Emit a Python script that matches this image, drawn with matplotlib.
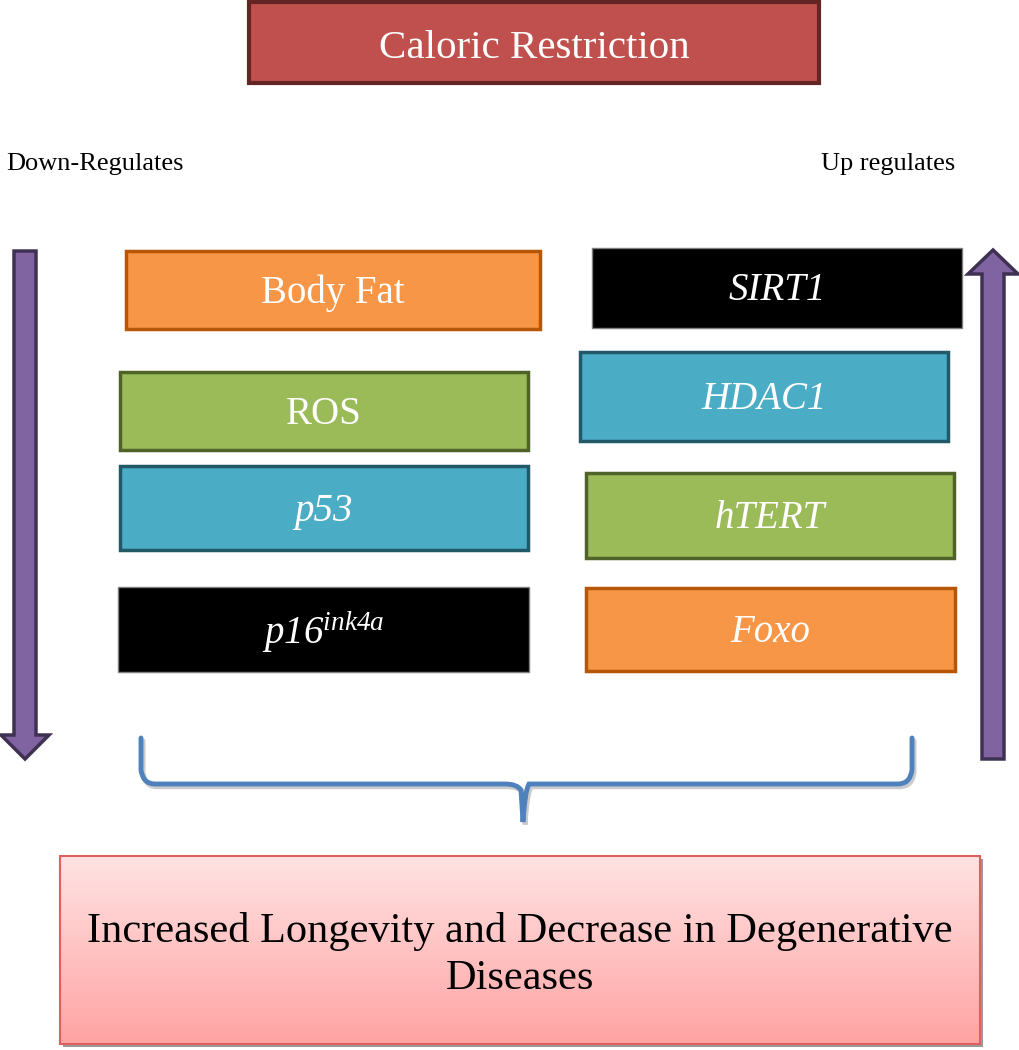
import numpy as np
import matplotlib
matplotlib.use("Agg")
import matplotlib.pyplot as plt
from matplotlib.patches import Rectangle, FancyArrow
from matplotlib.path import Path
from matplotlib.patches import PathPatch
import matplotlib.patheffects as pe

plt.rcParams['font.family'] = ['Liberation Serif', 'DejaVu Serif']
plt.rcParams['mathtext.fontset'] = 'custom'
plt.rcParams['mathtext.it'] = 'Liberation Serif:italic'
plt.rcParams['mathtext.rm'] = 'Liberation Serif:italic'

# labels
title = "Caloric Restriction"
left_label = "Down-Regulates"
right_label = "Up regulates"
down_labels = ["Body Fat", "ROS", "p53", r"$\mathit{p16}^{\mathit{ink4a}}$"]
down_italic = [False, False, True, False]
up_labels = ["SIRT1", "HDAC1", "hTERT", "Foxo"]
outcome = "Increased Longevity and Decrease in Degenerative\nDiseases"

# colours
orange, orange_e = "#F79646", "#B65708"
green, green_e = "#9BBB59", "#4F6228"
blue, blue_e = "#4BACC6", "#215968"
black, black_e = "#000000", "#7F7F7F"
down_styles = [(orange, orange_e), (green, green_e), (blue, blue_e), (black, black_e)]
up_styles = [(black, black_e), (blue, blue_e), (green, green_e), (orange, orange_e)]

# box layout in pixels: x0, y0, x1, y1
down_boxes = [(126, 251, 540, 329), (120, 372, 528, 450), (120, 466, 528, 550), (118, 587, 529, 672)]
up_boxes = [(592, 248, 962, 328), (580, 352, 948, 441), (586, 473, 954, 558), (586, 588, 955, 671)]

fig = plt.figure(figsize=(10.2, 10.5), dpi=100)
ax = fig.add_axes([0, 0, 1, 1])
ax.set_xlim(0, 1020)
ax.set_ylim(1050, 0)
ax.axis("off")


def box(x0, y0, x1, y1, fc, ec, lw=2.5):
    r = Rectangle((x0, y0), x1 - x0, y1 - y0, facecolor=fc, edgecolor=ec, linewidth=lw)
    ax.add_patch(r)
    return r


# title box
box(249, 2, 819, 83, "#C0504D", "#632523", lw=3)
ax.text(534, 48, title, color="white", fontsize=29.5, ha="center", va="center")

ax.text(6, 164, left_label, fontsize=19, ha="left", va="center")
ax.text(955, 164, right_label, fontsize=19, ha="right", va="center")

for lab, it, (x0, y0, x1, y1), (fc, ec) in zip(down_labels, down_italic, down_boxes, down_styles):
    box(x0, y0, x1, y1, fc, ec, lw=2.5 if fc != black else 1)
    ax.text((x0 + x1) / 2, (y0 + y1) / 2 + 3, lab, color="white", fontsize=28,
            style="italic" if it else "normal", ha="center", va="center")

for lab, (x0, y0, x1, y1), (fc, ec) in zip(up_labels, up_boxes, up_styles):
    box(x0, y0, x1, y1, fc, ec, lw=2.5 if fc != black else 1)
    ax.text((x0 + x1) / 2, (y0 + y1) / 2 + 3, lab, color="white", fontsize=28,
            style="italic", ha="center", va="center")

# arrows
ax.add_patch(FancyArrow(25, 251, 0, 508, width=22, head_width=48, head_length=24,
                        length_includes_head=True, facecolor="#8064A2", edgecolor="#3F3151", linewidth=2.5))
ax.add_patch(FancyArrow(993, 759, 0, -509, width=22, head_width=50, head_length=24,
                        length_includes_head=True, facecolor="#8064A2", edgecolor="#3F3151", linewidth=2.5))

# brace
verts = [(141, 738), (141, 770), (143, 784), (155, 784),
         (505, 784), (517, 784), (521, 790), (523, 822),
         (525, 790), (529, 784), (541, 784),
         (898, 784), (910, 784), (912, 770), (912, 738)]
codes = [Path.MOVETO, Path.LINETO, Path.CURVE3, Path.CURVE3,
         Path.LINETO, Path.CURVE3, Path.CURVE3, Path.LINETO,
         Path.CURVE3, Path.CURVE3, Path.CURVE3,
         Path.LINETO, Path.CURVE3, Path.CURVE3, Path.LINETO]
brace = PathPatch(Path(verts, codes), facecolor="none", edgecolor="#4F81BD", linewidth=3.5,
                  capstyle="round",
                  path_effects=[pe.SimpleLineShadow(offset=(1.5, -2), shadow_color="#999999", alpha=0.5,
                                                    linewidth=3.5),
                                pe.Normal()])
ax.add_patch(brace)

# outcome box with gradient
x0, y0, x1, y1 = 60, 856, 980, 1044
shadow = Rectangle((x0 + 3, y0 + 3), x1 - x0, y1 - y0, facecolor="#9a9a9a", edgecolor="none")
ax.add_patch(shadow)
grad = np.linspace(0, 1, 256).reshape(-1, 1)
cmap = matplotlib.colors.LinearSegmentedColormap.from_list("pk", ["#FFE3E3", "#FFA3A3"])
im = ax.imshow(grad, cmap=cmap, extent=(x0, x1, y1, y0), aspect="auto", zorder=1)
frame = box(x0, y0, x1, y1, "none", "#E0605E", lw=1.5)
frame.set_zorder(2)
im.set_clip_path(Rectangle((x0, y0), x1 - x0, y1 - y0, transform=ax.transData))
ax.set_xlim(0, 1020)
ax.set_ylim(1050, 0)
ax.text(520, 955, outcome, fontsize=30.5, ha="center", va="center", linespacing=1.32, zorder=3)

fig.savefig("out.png", dpi=100)
